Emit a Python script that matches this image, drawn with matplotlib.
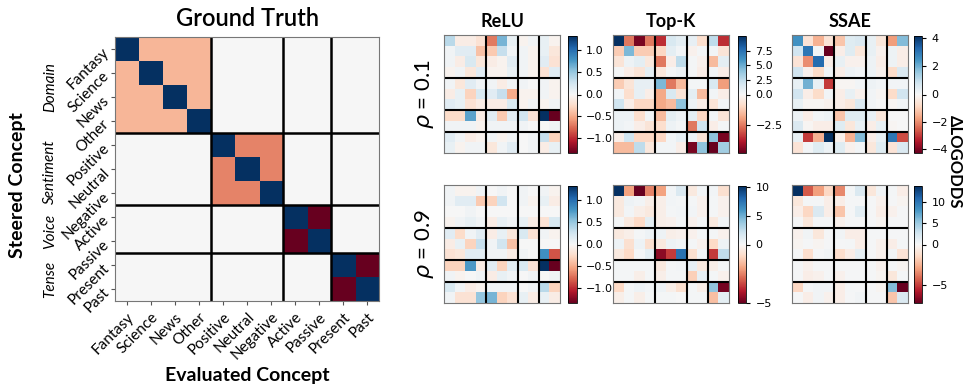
import numpy as np
import matplotlib
matplotlib.use("Agg")
import matplotlib.pyplot as plt
from matplotlib.colors import TwoSlopeNorm

# concepts and groups
concepts = ["Fantasy", "Science", "News", "Other", "Positive", "Neutral", "Negative",
            "Active", "Passive", "Present", "Past"]
groups = ["Domain", "Sentiment", "Voice", "Tense"]
group_sizes = [4, 3, 2, 2]

methods = ["ReLU", "Top-K", "SSAE"]
rhos = ["0.1", "0.9"]

# ground truth: +1 on the diagonal, -1/(n-1) inside a group, 0 elsewhere
gt_diag = 1.0
gt_within = [-1 / 3, -1 / 2, -1.0, -1.0]

# delta log-odds (rows = steered, cols = evaluated)
relu_01 = [
    [0.35, -0.10, -0.10, -0.20, -0.70, 0.60, 0.10, -0.05, 0.05, 0.10, -0.05],
    [0.05, 0.15, 0.15, -0.40, -0.35, 0.30, 0.05, 0.05, -0.05, 0.10, -0.15],
    [0.05, -0.10, 0.20, -0.15, -0.10, -0.05, 0.15, 0.05, -0.05, 0.15, -0.20],
    [-0.05, 0.05, -0.15, 0.15, -0.05, -0.05, 0.10, 0.05, -0.05, -0.20, 0.15],
    [0.05, -0.15, 0.15, 0.05, 0.05, -0.10, 0.05, 0.05, 0.00, 0.05, -0.05],
    [-0.10, 0.10, -0.30, 0.20, 0.15, 0.30, -0.50, -0.05, -0.05, 0.05, -0.05],
    [0.15, 0.10, -0.20, -0.10, -0.10, -0.10, 0.20, -0.05, 0.05, -0.05, 0.05],
    [-0.25, -0.25, 0.70, -0.10, 0.15, -0.35, 0.15, 0.25, -0.20, 1.30, -1.35],
    [0.05, 0.05, 0.05, -0.05, 0.05, 0.05, 0.05, 0.05, 0.00, 0.00, 0.05],
    [0.15, 0.05, -0.10, -0.05, 0.05, -0.05, 0.05, 0.00, 0.05, 0.30, -0.30],
    [0.10, -0.05, 0.05, 0.05, -0.15, 0.05, 0.15, 0.00, 0.05, -0.10, 0.10],
]
topk_01 = [
    [10.0, -2.5, -4.5, -2.5, -3.5, 1.5, 1.0, 0.8, -0.8, 2.5, -3.5],
    [-1.2, 4.5, -1.2, -1.2, -1.0, 1.0, 0.3, -0.2, 0.2, 0.3, -0.6],
    [-0.6, 0.5, 1.0, -0.5, -2.5, -0.3, 2.5, 0.2, -0.2, -1.5, 1.0],
    [0.2, -0.3, -0.6, 1.0, -0.5, 0.2, 0.5, 0.2, -0.3, 0.3, -0.3],
    [-1.2, -0.6, 0.8, 0.8, 4.5, -2.5, -1.5, 0.2, 0.2, 1.5, -2.0],
    [0.3, -0.8, 0.8, -0.3, -1.8, 1.5, -0.6, 1.0, -1.5, 0.3, -0.3],
    [2.0, -0.3, -1.0, -1.0, -1.8, -1.5, 4.0, 0.5, -0.3, -0.6, 0.3],
    [0.5, 0.5, -0.8, 0.3, -1.5, 1.0, 0.5, 1.0, -1.0, 0.3, -0.6],
    [0.5, 0.3, -0.3, -0.6, -0.8, 0.5, 0.2, -2.5, 2.0, -0.3, 0.2],
    [-0.3, 2.0, -1.0, -1.0, -1.0, 0.3, 0.8, 0.5, -0.6, 4.0, -4.5],
    [-1.5, -1.5, 2.5, -0.5, 0.3, 0.3, -0.3, -4.5, 4.0, -4.75, 3.5],
]
ssae_01 = [
    [2.5, -0.6, -1.5, -0.6, -1.2, 0.5, 0.6, 0.3, -0.5, -1.8, 1.8],
    [0.8, 3.0, 0.1, -4.3, -0.3, 0.5, -0.5, 0.3, -0.2, 0.2, -0.3],
    [-0.6, -2.0, 3.2, -0.3, 0.3, -0.2, -0.2, 0.2, -0.3, 0.2, -0.3],
    [0.8, -0.2, -0.8, 0.1, -0.3, 0.2, 0.1, 0.2, -0.2, -0.8, 0.6],
    [0.3, 2.0, 0.3, -3.0, -0.1, -0.1, 0.1, 0.2, 0.1, 0.1, 0.1],
    [0.8, -0.3, -0.8, 0.1, -0.3, 0.3, -0.2, 0.1, -0.1, -0.8, 0.8],
    [0.3, -0.1, -0.1, -0.2, -0.3, -0.5, 0.6, 0.1, 0.0, -0.1, 0.1],
    [0.2, -0.3, 0.1, 0.2, -1.2, 0.5, 0.5, 0.3, -0.5, 0.0, 0.0],
    [0.6, -0.1, -0.3, -0.3, 0.5, -0.5, 0.3, -0.3, 0.3, -0.1, 0.0],
    [0.3, -3.0, -1.5, 4.15, -0.2, -1.5, 1.8, -0.3, 0.3, 3.0, -2.8],
    [-0.6, 0.1, 0.5, 0.2, 0.5, -0.2, 0.1, -0.5, 0.5, -0.6, 0.6],
]
relu_09 = [
    [0.05, -0.05, -0.05, 0.05, 0.00, 0.05, 0.00, 0.05, 0.00, 0.05, -0.05],
    [0.05, 0.15, 0.15, -0.35, -0.30, 0.25, 0.00, 0.05, -0.05, 0.10, -0.10],
    [0.00, 0.00, 0.05, 0.00, 0.00, 0.00, 0.00, 0.00, 0.00, 0.00, 0.00],
    [-0.05, 0.05, 0.10, 0.05, -0.10, 0.10, 0.05, 0.10, -0.10, -0.20, 0.20],
    [0.15, -0.25, 0.05, 0.15, -0.10, 0.10, -0.15, 0.20, -0.20, 0.05, -0.05],
    [-0.10, 0.10, -0.30, 0.30, 0.05, 0.25, -0.40, 0.00, 0.00, 0.00, 0.00],
    [-0.20, -0.15, 0.15, 0.15, 0.05, 0.05, -0.10, 0.05, 0.00, 0.80, -0.85],
    [-0.30, -0.30, 0.75, -0.10, 0.15, -0.30, 0.15, 0.20, -0.20, 1.30, -1.35],
    [0.05, -0.05, 0.00, 0.05, -0.10, 0.10, 0.05, 0.00, 0.05, 0.00, 0.05],
    [0.20, 0.05, -0.10, -0.05, 0.05, 0.05, 0.05, 0.00, 0.05, 0.35, -0.30],
    [0.05, -0.20, -0.20, 0.50, 0.60, -0.30, -0.20, 0.10, -0.10, 0.10, -0.10],
]
topk_09 = [
    [10.2, -2.0, -5.0, -2.5, -2.0, 0.3, 1.5, -0.5, 0.3, 0.3, -0.8],
    [-0.5, 0.5, 0.3, -0.3, -0.3, 0.3, 0.2, 0.2, -0.2, 0.2, -0.2],
    [-0.5, 0.3, -0.3, -0.5, -0.3, 0.2, 0.3, 0.3, -0.2, 0.2, -0.2],
    [0.2, -0.5, -1.0, 1.0, -0.3, -0.2, 0.2, -0.2, 0.2, -0.5, 0.3],
    [-0.5, -0.3, 0.2, 0.5, 0.5, -0.3, -0.2, -0.2, 0.2, 0.2, -0.2],
    [0.5, -0.8, 0.5, -0.8, -0.5, 0.5, 0.3, 0.2, -0.2, -1.0, 0.5],
    [-0.5, -1.0, 0.2, 1.0, -4.5, -3.5, 7.5, -0.8, 0.3, -3.5, 2.5],
    [0.2, 0.2, 0.2, 0.2, -0.5, 0.2, 0.3, 0.8, -0.5, -0.3, 0.2],
    [0.2, 0.2, -0.3, 0.2, -0.3, 0.2, 0.2, -1.2, 0.8, 0.2, -0.2],
    [-1.0, 0.2, 0.5, 0.3, 0.5, -0.3, -0.8, 0.2, -0.3, 4.0, -4.8],
    [-0.3, 0.2, -0.3, 0.2, 0.2, 0.2, 0.0, 0.2, 0.2, -1.5, 1.0],
]
ssae_09 = [
    [13.8, -4.5, -3.0, -1.5, -3.5, 0.3, 2.0, -0.8, 0.5, 0.3, -0.5],
    [-0.8, 0.3, 0.3, -0.5, -0.5, 0.2, 0.2, 0.2, -0.3, 0.2, -0.2],
    [-0.5, -1.5, 2.0, -0.5, -2.0, 0.2, 1.5, 0.2, -0.5, -0.3, 0.2],
    [0.2, -0.8, 0.3, 0.3, -0.3, 0.2, 0.2, 0.2, -0.2, 0.2, 0.2],
    [-0.3, 0.5, -0.8, 0.2, 0.5, -0.5, -0.5, 0.2, 0.2, 0.2, 0.2],
    [-0.2, 0.2, -0.2, 0.2, 0.2, 0.3, -0.5, 0.2, -0.3, -0.5, 0.3],
    [0.2, -1.2, 0.2, 0.5, -1.2, -0.5, 1.2, 0.2, -0.3, 0.5, -1.0],
    [0.2, -0.3, 0.2, 0.2, 0.2, 0.2, 0.2, 0.2, -0.3, 0.2, -0.2],
    [0.2, -0.5, -0.3, 0.2, -0.3, 0.2, 0.2, 0.2, -0.2, -0.8, 0.3],
    [-1.5, 0.2, 0.5, 0.5, -0.5, 0.3, 0.2, 0.2, -0.2, 6.0, -7.3],
    [0.2, -0.5, 0.5, -0.3, -0.5, 0.2, 0.5, 0.2, 0.2, -2.0, 2.0],
]

panels = {
    ("0.1", "ReLU"): relu_01, ("0.1", "Top-K"): topk_01, ("0.1", "SSAE"): ssae_01,
    ("0.9", "ReLU"): relu_09, ("0.9", "Top-K"): topk_09, ("0.9", "SSAE"): ssae_09,
}
cbar_ticks = {
    ("0.1", "ReLU"): [-1.0, -0.5, 0.0, 0.5, 1.0],
    ("0.1", "Top-K"): [-2.5, 0.0, 2.5, 5.0, 7.5],
    ("0.1", "SSAE"): [-4, -2, 0, 2, 4],
    ("0.9", "ReLU"): [-1.0, -0.5, 0.0, 0.5, 1.0],
    ("0.9", "Top-K"): [-5, 0, 5, 10],
    ("0.9", "SSAE"): [-5, 0, 5, 10],
}

TITLE_FONT = "Lato"
W, H = 964, 389


def px_axes(fig, left, top, width, height):
    """Add axes placed by pixel box (top-left origin)."""
    return fig.add_axes([left / W, (H - top - height) / H, width / W, height / H])


def group_lines(ax, lw):
    bounds = np.cumsum(group_sizes)[:-1] - 0.5
    for b in bounds:
        ax.axhline(b, color="black", lw=lw)
        ax.axvline(b, color="black", lw=lw)


def main():
    n = len(concepts)
    # build ground truth matrix
    gt = np.zeros((n, n))
    start = 0
    for size, val in zip(group_sizes, gt_within):
        gt[start:start + size, start:start + size] = val
        start += size
    np.fill_diagonal(gt, gt_diag)

    fig = plt.figure(figsize=(W / 100, H / 100), dpi=100)

    # --- Ground truth panel ---
    ax = px_axes(fig, 115, 37, 264, 264)
    ax.imshow(gt, cmap="RdBu", vmin=-1, vmax=1, aspect="auto", interpolation="nearest")
    group_lines(ax, 1.8)
    for s in ax.spines.values():
        s.set_color("#777777")
    ax.set_xticks(range(n))
    ax.set_yticks(range(n))
    ax.set_xticklabels(concepts, rotation=45, ha="right", rotation_mode="anchor",
                       family=TITLE_FONT, fontsize=11)
    ax.set_yticklabels(concepts, rotation=45, ha="right", rotation_mode="anchor",
                       family=TITLE_FONT, fontsize=11)
    ax.tick_params(length=3, color="#555555")
    ax.set_title("Ground Truth", family=TITLE_FONT, fontsize=17, fontweight="semibold", pad=8)
    ax.set_xlabel("Evaluated Concept", family=TITLE_FONT, fontsize=14, fontweight="bold",
                  labelpad=3)
    fig.text(18 / W, 1 - 185 / H, "Steered Concept", rotation=90, ha="center", va="center",
             family=TITLE_FONT, fontsize=14, fontweight="bold")
    start = 0
    for g, size in zip(groups, group_sizes):
        center = start + (size - 1) / 2 + 0.1
        ax.text(-0.245, center, g, transform=ax.get_yaxis_transform(), rotation=90,
                ha="center", va="center", style="italic", family=TITLE_FONT, fontsize=11)
        start += size

    # --- Method panels ---
    lefts = [444, 613, 792]
    cbar_lefts = [568, 738, 914]
    tops = [35, 185]
    for r, rho in enumerate(rhos):
        for c, m in enumerate(methods):
            data = np.array(panels[(rho, m)])
            norm = TwoSlopeNorm(vcenter=0, vmin=data.min(), vmax=data.max())
            ax = px_axes(fig, lefts[c], tops[r], 116, 118)
            im = ax.imshow(data, cmap="RdBu", norm=norm, aspect="auto", interpolation="nearest")
            group_lines(ax, 1.5)
            ax.set_xticks([])
            ax.set_yticks([])
            for s in ax.spines.values():
                s.set_color("#777777")
            if r == 0:
                ax.set_title(m, family=TITLE_FONT, fontsize=13, fontweight="bold", pad=6)
            cax = px_axes(fig, cbar_lefts[c], tops[r] + 1, 8.5, 117)
            cb = fig.colorbar(im, cax=cax, ticks=cbar_ticks[(rho, m)])
            cb.ax.tick_params(labelsize=8, length=3)
            cb.outline.set_linewidth(0.6)
        fig.text(425 / W, 1 - (tops[r] + 59) / H, r"$\rho$ = " + rho, rotation=90,
                 ha="center", va="center", family=TITLE_FONT, fontsize=16)

    fig.text(955 / W, 1 - 162 / H, "ΔLOGODDS", rotation=270, ha="center", va="center",
             family=TITLE_FONT, fontsize=12, fontweight="bold")

    fig.savefig("out.png", dpi=100)


if __name__ == "__main__":
    main()
